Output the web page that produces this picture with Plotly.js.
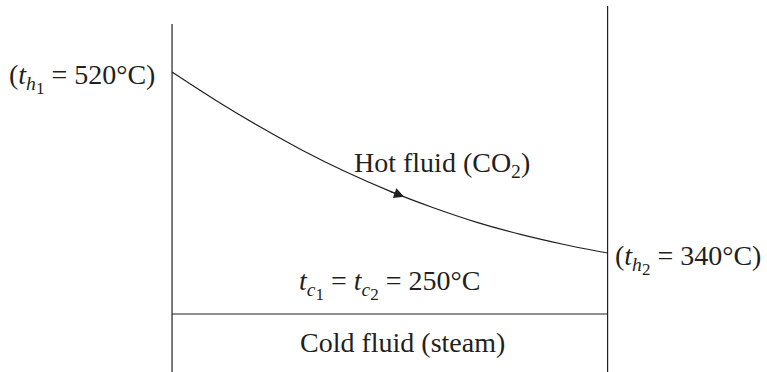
<!DOCTYPE html>
<html>
<head>
<meta charset="utf-8">
<script src="https://cdn.plot.ly/plotly-3.0.1.min.js"></script>
<style>html,body{margin:0;padding:0;background:#fff;}#chart{width:767px;height:372px;}</style>
</head>
<body>
<div id="chart"></div>
<script>
// Position along exchanger (fraction of length)
const position = [0, 0.1, 0.2, 0.3, 0.4, 0.5, 0.6, 0.7, 0.8, 0.9, 1.0];
// Hot fluid (CO2) temperature along exchanger, °C (read from schematic)
const hotTemp = [520, 492, 466, 442, 420.5, 401.5, 385, 370.5, 358.5, 348.5, 340];
// Cold fluid (steam) condensing at constant temperature, °C
const coldPosition = [0, 1];
const coldTemp = [250, 250];
const arrowAt = 0.533;

const ink = '#231f20';
const font = {family: 'Liberation Serif, serif', size: 28, color: ink};

function interp(xs, ys, x) {
  for (let i = 0; i < xs.length - 1; i++) {
    if (x >= xs[i] && x <= xs[i + 1]) {
      const t = (x - xs[i]) / (xs[i + 1] - xs[i]);
      return ys[i] + t * (ys[i + 1] - ys[i]);
    }
  }
  return ys[ys.length - 1];
}

const sub2 = s => '<sub><span style="font-size:17px">' + s + '</span></sub>';

const traces = [
  {x: position, y: hotTemp, type: 'scatter', mode: 'lines', line: {color: ink, width: 1.2, shape: 'spline'}, hoverinfo: 'skip'},
  {x: coldPosition, y: coldTemp, yaxis: 'y2', type: 'scatter', mode: 'lines', line: {color: ink, width: 1.2}, hoverinfo: 'skip'}
];

const tipY = interp(position, hotTemp, arrowAt);

const layout = {
  width: 767, height: 372,
  margin: {l: 0, r: 0, t: 0, b: 0},
  paper_bgcolor: '#fff', plot_bgcolor: '#fff',
  showlegend: false,
  xaxis: {range: [-0.395, 1.366], visible: false, fixedrange: true},
  yaxis: {range: [221.7, 591.6], visible: false, fixedrange: true},
  yaxis2: {range: [240, 304.14], overlaying: 'y', visible: false, fixedrange: true},
  shapes: [
    {type: 'line', xref: 'x', yref: 'paper', x0: 0, x1: 0, y0: 0, y1: 0.9355, line: {color: ink, width: 1.2}},
    {type: 'line', xref: 'x', yref: 'paper', x0: 1, x1: 1, y0: 0, y1: 0.984, line: {color: ink, width: 1.2}}
  ],
  annotations: [
    {x: arrowAt, y: tipY, xref: 'x', yref: 'y', ax: -15, ay: -5.5, showarrow: true, arrowhead: 2, arrowsize: 1.7, arrowwidth: 1.2, arrowcolor: ink, text: ''},
    {x: -0.034, y: hotTemp[0] - 6, xref: 'x', yref: 'y', xanchor: 'right', yanchor: 'middle', showarrow: false, font: font,
     text: '(<i>t</i><sub><i>h</i>' + sub2('1') + '</sub> = 520°C)'},
    {x: 0.62, y: 428, xref: 'x', yref: 'y', xanchor: 'center', yanchor: 'middle', showarrow: false, font: font,
     text: 'Hot fluid (CO<sub>2</sub>)'},
    {x: 1.012, y: hotTemp[hotTemp.length - 1] - 6, xref: 'x', yref: 'y', xanchor: 'left', yanchor: 'middle', showarrow: false, font: font,
     text: '(<i>t</i><sub><i>h</i>' + sub2('2') + '</sub> = 340°C)'},
    {x: 0.5, y: 0.235, xref: 'x', yref: 'paper', xanchor: 'center', yanchor: 'middle', showarrow: false, font: font,
     text: '<i>t</i><sub><i>c</i>' + sub2('1') + '</sub> = <i>t</i><sub><i>c</i>' + sub2('2') + '</sub> = 250°C'},
    {x: 0.528, y: 0.078, xref: 'x', yref: 'paper', xanchor: 'center', yanchor: 'middle', showarrow: false, font: font,
     text: 'Cold fluid (steam)'}
  ]
};

Plotly.newPlot('chart', traces, layout, {staticPlot: true, displayModeBar: false});
</script>
</body>
</html>
